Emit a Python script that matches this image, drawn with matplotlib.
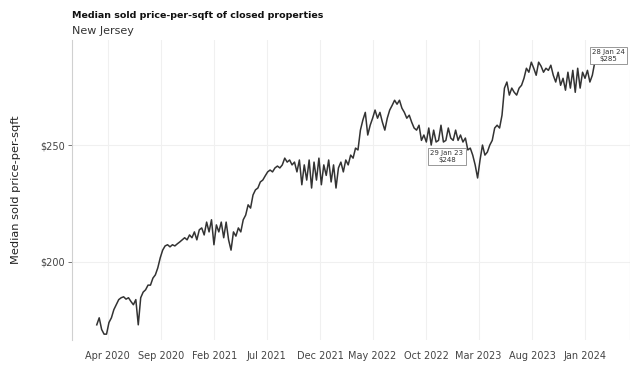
import numpy as np
import pandas as pd
import matplotlib
matplotlib.use("Agg")
import matplotlib.pyplot as plt
import matplotlib.dates as mdates

# weekly median sold price-per-sqft, New Jersey
start = "2020-03-01"
price = [
    173, 176, 171, 169, 169, 174, 176, 179.5, 181.6, 183.8,
    184.6, 185, 184, 184.6, 183, 181.6, 183.8, 173, 184.6, 187,
    188, 190, 190, 193, 194.4, 197.4, 201.7, 205, 206.8, 207.3,
    206.4, 207.3, 206.8, 207.7, 208.5, 209.4, 210.3, 209.4, 211.5, 210.3,
    212.8, 209.4, 213.7, 214.5, 211.5, 217, 212.8, 218, 207.3, 215.8,
    212.8, 217, 210.3, 217, 209.4, 205, 212.8, 211, 214.5, 212.8,
    218, 220, 224.4, 223, 228.6, 230.8, 231.6, 234.2, 235, 236.8,
    238.5, 239.3, 238.5, 240.2, 241, 240.2, 241.5, 244.4, 242.7, 243.6,
    241.5, 242.7, 238.5, 243.6, 233, 241.5, 235, 243.6, 231.6, 242.7,
    235, 244.4, 233, 241.5, 237, 243.6, 234.2, 241.5, 231.6, 240.2,
    242.7, 238.5, 243.6, 241.5, 245.7, 244.4, 248.7, 247.9, 256.4, 260.7,
    264, 254.3, 258.5, 261.5, 265, 261.5, 264, 259.8, 256.4, 261.5,
    265, 267, 269.2, 267.5, 269.2, 265.8, 264, 261.5, 262.8, 259.8,
    257.3, 256.4, 258.5, 252, 254.3, 251.3, 257.3, 250, 256.4, 251.3,
    252, 258.5, 251.3, 252, 257.3, 253, 252, 256.4, 252, 254.3,
    251.3, 253, 247.9, 248.7, 245.7, 241.5, 235.9, 243.6, 250, 245.7,
    247, 250, 252, 257.3, 258.5, 257.3, 262.8, 274.4, 277, 271.4,
    274.4, 272.6, 271.4, 274.4, 275.6, 278.6, 282.9, 281.2, 285.5, 282.9,
    279.9, 285.5, 283.8, 281.2, 282.9, 282, 284.2, 279.9, 277, 281.2,
    275.6, 278.6, 273.5, 281.2, 274.4, 282, 272.6, 282.9, 274.4, 281.2,
    278.6, 282, 277, 279.9, 285.5,
]
dates = pd.date_range(start, periods=len(price), freq="7D")

tick_dates = pd.to_datetime(["2020-04-01", "2020-09-01", "2021-02-01", "2021-07-01",
                             "2021-12-01", "2022-05-01", "2022-10-01", "2023-03-01",
                             "2023-08-01", "2024-01-01"])
y_ticks = [200, 250]

# labelled points
last_label = ["28 Jan 24", "$285"]
prev_label = ["29 Jan 23", "$248"]

fig = plt.figure(figsize=(6.36, 3.66), dpi=100)
ax = fig.add_axes([72 / 636, 26 / 366, 558 / 636, 300 / 366])

ax.plot(dates, price, color="#333333", lw=1.1)

ax.set_xlim(dates[0] - pd.Timedelta(days=71), dates[0] + pd.Timedelta(days=1529))
ax.set_ylim(166.5, 295)

ax.set_xticks(tick_dates)
ax.xaxis.set_major_formatter(mdates.DateFormatter("%b %Y"))
ax.set_yticks(y_ticks)
ax.set_yticklabels(["$%d" % v for v in y_ticks])
ax.tick_params(axis="x", labelsize=7, colors="#444444", length=0, pad=8)
ax.tick_params(axis="y", labelsize=7, colors="#444444", length=3, width=0.5, pad=2)
ax.grid(True, color="#f0f0f0", lw=0.8)
ax.set_axisbelow(True)

for s in ["top", "right", "bottom"]:
    ax.spines[s].set_visible(False)
ax.spines["left"].set_color("#d0d0d0")
ax.spines["left"].set_linewidth(0.8)

ax.set_ylabel("Median sold price-per-sqft", fontsize=8.2, color="#222222", labelpad=14)

# hover rule at right edge
ax.axvline(ax.get_xlim()[1], ymin=0, ymax=0.9, color="#cccccc", lw=0.8)

box = dict(boxstyle="square,pad=0.3", fc="white", ec="#888888", lw=0.6)
ax.annotate("\n".join(last_label), xy=(dates[-1], price[-1]), xytext=(10, 5),
            textcoords="offset points", fontsize=5, ha="center", va="center",
            multialignment="center", bbox=box, color="#333333")
ax.annotate("\n".join(prev_label), xy=(dates[-53], price[-53]), xytext=(-15, -5),
            textcoords="offset points", fontsize=5, ha="center", va="center",
            multialignment="center", bbox=box, color="#333333")

fig.text(72 / 636, 1 - 16 / 366, "Median sold price-per-sqft of closed properties",
         fontsize=6.8, fontweight="heavy", va="center", ha="left", color="#111111")
fig.text(72 / 636, 1 - 31 / 366, "New Jersey", fontsize=8, va="center", ha="left",
         color="#333333")

fig.savefig("out.png", dpi=100)
